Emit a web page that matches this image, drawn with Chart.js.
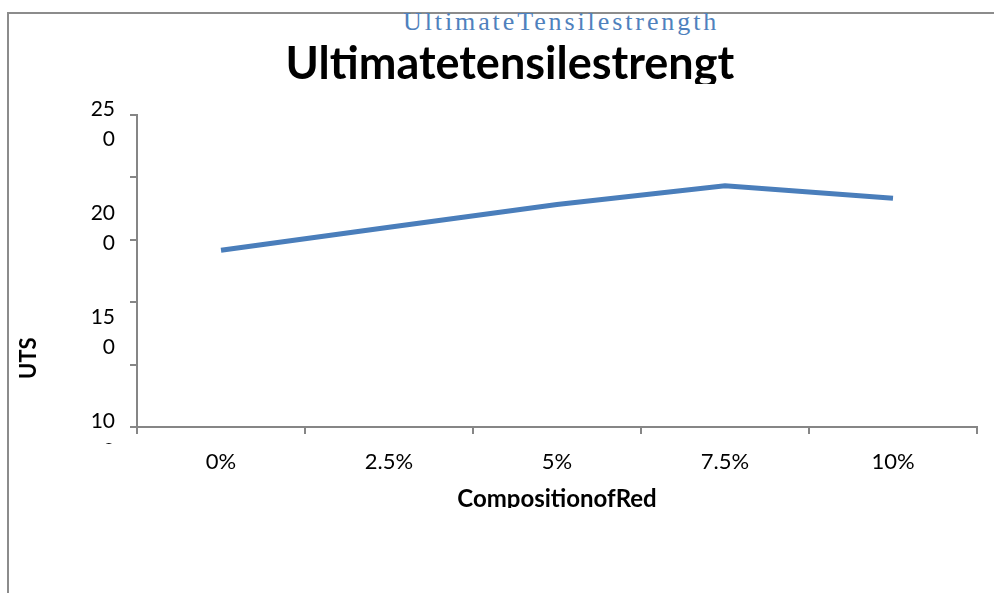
<!DOCTYPE html>
<html>
<head>
<meta charset="utf-8">
<script src="https://cdn.jsdelivr.net/npm/chart.js"></script>
<style>
  html,body{margin:0;padding:0;background:#fff;width:994px;height:593px;overflow:hidden}
  #frame{position:absolute;left:7px;top:12px;width:1000px;height:600px;border-left:2px solid #8c8c8c;border-top:2px solid #8c8c8c}
  #sub{position:absolute;left:403px;top:7px;font-family:"Liberation Serif",serif;font-size:26px;color:#4f81bd;letter-spacing:2.9px;white-space:nowrap}
  #wrap{position:absolute;left:0;top:0;width:994px;height:593px}
</style>
</head>
<body>
<div id="frame"></div>
<div id="sub">UltimateTensilestrength</div>
<div id="wrap"><canvas id="chart"></canvas></div>
<script>
// ---- data ----
const CATEGORIES = ['0%', '2.5%', '5%', '7.5%', '10%'];
const UTS_VALUES = [185, 196, 207, 216, 210];
const Y_LABEL_VALUES = [100, 150, 200, 250];
const Y_LABEL_TEXT = [['10', '0'], ['15', '0'], ['20', '0'], ['25', '0']];
const Y_MIN = 100, Y_MAX = 250;

const AXIS_GREY = '#868686';
const LINE_BLUE = '#4a7ebb';
const FONT = 'Lato, "Open Sans", sans-serif';

// the source clips the bottom of the bold titles and of the lowest y label; mimic that
const cropTitles = {
  id: 'cropTitles',
  afterDraw(chart) {
    const ctx = chart.ctx;
    ctx.save();
    ctx.fillStyle = '#fff';
    const t = chart.titleBlock;
    ctx.font = 'bold 45px ' + FONT;
    const tw = ctx.measureText(t.options.text).width;
    const cx = (t.left + t.right) / 2;
    ctx.fillRect(cx - tw / 2 - 2, t.top + 47, tw + 4, 10);
    const x = chart.scales.x;
    ctx.font = 'bold 24px ' + FONT;
    const xw = ctx.measureText(x.options.title.text).width;
    const xc = (x.left + x.right) / 2;
    ctx.fillRect(xc - xw / 2 - 2, 508, xw + 4, 12);
    const yl = chart.scales.yLabels;
    ctx.fillRect(yl.left + 40, x.top + 17, yl.width - 42, 24);
    ctx.restore();
  }
};

new Chart(document.getElementById('chart'), {
  type: 'line',
  data: {
    labels: CATEGORIES,
    datasets: [{
      label: 'UTS',
      data: UTS_VALUES,
      borderColor: LINE_BLUE,
      borderWidth: 5,
      pointRadius: 0,
      tension: 0,
      fill: false
    }]
  },
  options: {
    responsive: true,
    maintainAspectRatio: false,
    animation: false,
    layout: { padding: { top: 37, right: 17, left: 10, bottom: 70 } },
    plugins: {
      legend: { display: false },
      tooltip: { enabled: false },
      title: {
        display: true,
        text: '   Ultimatetensilestrengt',
        color: '#000',
        font: { family: FONT, size: 45, weight: 'bold' },
        padding: { top: 0, bottom: 24 }
      }
    },
    scales: {
      x: {
        offset: true,
        afterFit: s => { s.height = 96; },
        grid: { offset: true, drawOnChartArea: false, color: AXIS_GREY, lineWidth: 2, tickLength: 7 },
        border: { color: AXIS_GREY, width: 2 },
        ticks: { color: '#000', font: { family: FONT, size: 22 }, padding: 15 },
        title: { display: true, text: 'CompositionofRed', color: '#000', font: { family: FONT, size: 24, weight: 'bold' }, padding: { top: 0, bottom: 9 } }
      },
      // tick marks only
      y: {
        min: Y_MIN, max: Y_MAX,
        weight: 0,
        afterFit: s => { s.width = 7; },
        ticks: { stepSize: 30, display: false },
        grid: { drawOnChartArea: false, color: AXIS_GREY, lineWidth: 2, tickLength: 7 },
        border: { color: AXIS_GREY, width: 2 }
      },
      // labels + axis title
      yLabels: {
        position: 'left',
        min: Y_MIN, max: Y_MAX,
        weight: 1,
        afterFit: s => { s.width = 120; },
        afterBuildTicks: s => { s.ticks = Y_LABEL_VALUES.map(v => ({ value: v })); },
        ticks: {
          color: '#000',
          font: { family: FONT, size: 21, lineHeight: 1.43 },
          labelOffset: 9,
          padding: 15,
          callback: (v) => Y_LABEL_TEXT[Y_LABEL_VALUES.indexOf(v)]
        },
        grid: { display: false, drawTicks: false },
        border: { display: false },
        title: {
          display: true, text: '         UTS', align: 'start', color: '#000',
          font: { family: FONT, size: 22, weight: 'bold' }, padding: { top: 6, bottom: 0 }
        }
      }
    }
  },
  plugins: [cropTitles]
});
</script>
</body>
</html>
